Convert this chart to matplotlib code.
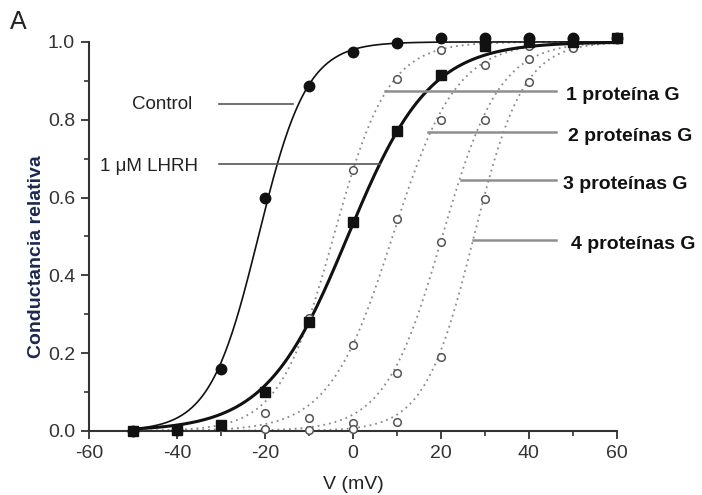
import matplotlib
matplotlib.use("Agg")
import matplotlib.pyplot as plt
import numpy as np

plt.rcParams["font.family"] = ["Liberation Sans", "DejaVu Sans"]
plt.rcParams["axes.unicode_minus"] = False

voltage = [-50, -40, -30, -20, -10, 0, 10, 20, 30, 40, 50, 60]
control = [0.0, 0.003, 0.16, 0.60, 0.887, 0.974, 0.997, 1.01, 1.01, 1.01, 1.01, 1.01]
lhrh = [0.0, 0.003, 0.015, 0.10, 0.28, 0.537, 0.77, 0.915, 0.99, 1.0, 1.0, 1.01]

g1_v = [-30, -20, -10, 0, 10, 20, 30]
g1_y = [0.01, 0.046, 0.29, 0.67, 0.905, 0.98, 1.0]
g2_v = [-20, -10, 0, 10, 20, 30, 40, 50]
g2_y = [0.005, 0.033, 0.22, 0.545, 0.80, 0.94, 0.99, 1.0]
g3_v = [-10, 0, 10, 20, 30, 40, 50]
g3_y = [0.003, 0.02, 0.15, 0.486, 0.80, 0.957, 0.99]
g4_v = [0, 10, 20, 30, 40, 50]
g4_y = [0.004, 0.023, 0.19, 0.596, 0.897, 0.985]

# Boltzmann fits (V1/2, slope)
control_fit = (-21.5, 5.5)
lhrh_fit = (-1.2, 9.3)
protein_fits = [(-4.4, 6.2), (9.0, 7.2), (20.3, 6.5), (27.5, 5.6)]
protein_labels = ["1 proteína G", "2 proteínas G", "3 proteínas G", "4 proteínas G"]


def boltzmann(v, v_half, slope):
    return 1.0 / (1.0 + np.exp(-(v - v_half) / slope))


class Figure():

    def __init__(self):
        self.fig = plt.figure(figsize=(7.02, 4.95), dpi=100)
        self.ax = self.fig.add_axes([0.1268, 0.1293, 0.752, 0.786])
        self.v_fine = np.linspace(-50, 60, 400)

    def create_figure(self):
        self.plot_fits()
        self.plot_points()
        self.plot_labels()
        self.set_axes()
        self.fig.savefig("out.png", dpi=100)

    def plot_fits(self):
        for v_half, slope in protein_fits:
            self.ax.plot(self.v_fine, boltzmann(self.v_fine, v_half, slope),
                         ls=(0, (1, 2.2)), color="#8a8a8a", lw=1.3, clip_on=False)
        self.ax.plot(self.v_fine, boltzmann(self.v_fine, *control_fit),
                     color="#111111", lw=1.2, clip_on=False)
        self.ax.plot(self.v_fine, boltzmann(self.v_fine, *lhrh_fit),
                     color="#111111", lw=2.2, clip_on=False)

    def plot_points(self):
        for v, y in zip([g1_v, g2_v, g3_v, g4_v], [g1_y, g2_y, g3_y, g4_y]):
            self.ax.plot(v, y, "o", ms=5.5, mfc="white", mec="#555555",
                         mew=1.1, clip_on=False, zorder=4)
        self.ax.plot(voltage, lhrh, "s", ms=6.5, color="#111111",
                     clip_on=False, zorder=5)
        self.ax.plot(voltage, control, "o", ms=7.5, color="#111111",
                     clip_on=False, zorder=5)

    def plot_labels(self):
        self.ax.plot([-30.5, -13.6], [0.84, 0.84], color="#555555", lw=1.2)
        self.ax.plot([-30.5, 6.1], [0.686, 0.686], color="#555555", lw=1.2)
        self.ax.text(-36.6, 0.84, "Control", ha="right", va="center", fontsize=13.5,
                     color="#222222")
        self.ax.text(-35.2, 0.68, "1 \u03bcM LHRH", ha="right", va="center",
                     fontsize=13.5, color="#222222")

        starts = [7.3, 17.0, 24.5, 27.3]
        levels = [0.874, 0.769, 0.645, 0.491]
        text_x = [48.5, 48.9, 47.8, 49.6]
        for x0, y, tx, label in zip(starts, levels, text_x, protein_labels):
            self.ax.plot([x0, 46.2], [y, y], color="#8f8f8f", lw=1.8)
            self.ax.text(tx, y - 0.012, label, ha="left", va="center", fontsize=14,
                         fontweight="bold", color="#111111", clip_on=False)

        self.fig.text(0.014, 0.955, "A", fontsize=18, color="#222222",
                      ha="left", va="center")

    def set_axes(self):
        self.ax.set_xlim(-60, 60)
        self.ax.set_ylim(0, 1.0)
        for side in ["top", "right"]:
            self.ax.spines[side].set_visible(False)
        for side in ["left", "bottom"]:
            self.ax.spines[side].set_linewidth(1.5)
            self.ax.spines[side].set_color("#333333")

        self.ax.set_xticks(np.arange(-60, 61, 20))
        self.ax.set_xticks(np.arange(-50, 60, 10), minor=True)
        self.ax.set_yticks(np.arange(0, 1.01, 0.2))
        self.ax.set_yticks(np.arange(0.1, 1.0, 0.2), minor=True)
        self.ax.set_yticklabels([f"{t:.1f}" for t in np.arange(0, 1.01, 0.2)])
        self.ax.tick_params(which="major", length=6, width=1.3, color="#333333",
                            labelsize=14, labelcolor="#333333", pad=4)
        self.ax.tick_params(which="minor", length=3.5, width=1.2, color="#333333")

        self.ax.set_xlabel("V (mV)", fontsize=14, color="#222222", labelpad=10)
        self.ax.set_ylabel("Conductancia relativa", fontsize=14, fontweight="bold",
                           color="#1c2850")
        self.ax.yaxis.set_label_coords(-0.084, 0.447)


Figure().create_figure()
